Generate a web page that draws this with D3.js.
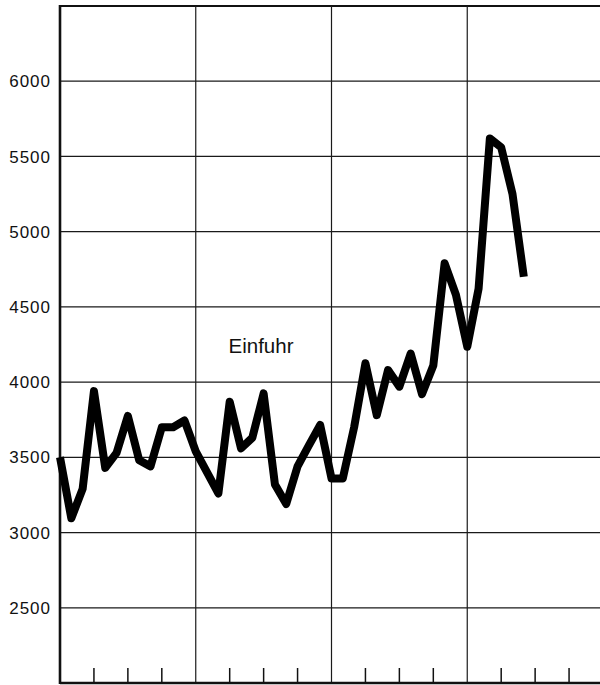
<!DOCTYPE html>
<html>
<head>
<meta charset="utf-8">
<script src="https://cdn.jsdelivr.net/npm/d3@7"></script>
<style>
  html, body { margin: 0; padding: 0; background: #fff; }
  svg { display: block; }
  .tick-label { font-family: "Liberation Sans", Arial, Helvetica, sans-serif; font-size: 17px; letter-spacing: 1px; fill: #111; }
  .series-label { font-family: "Liberation Sans", Arial, Helvetica, sans-serif; font-size: 20.5px; fill: #111; }
</style>
</head>
<body>
<svg id="chart" width="600" height="685"></svg>
<script>
// Monthly imports (Einfuhr), four years plus part of a fifth
const einfuhr = [
  3500, 3095, 3290, 3940, 3430, 3530, 3775, 3480, 3440, 3700, 3700, 3745,
  3540, 3400, 3260, 3870, 3560, 3630, 3925, 3320, 3190, 3440, 3580, 3715,
  3360, 3360, 3700, 4125, 3780, 4080, 3970, 4190, 3920, 4110, 4790, 4580,
  4235, 4620, 5620, 5560, 5250, 4700
];
const yTicks = [2500, 3000, 3500, 4000, 4500, 5000, 5500, 6000];
const yearStarts = [12, 24, 36, 48];
const quarterTicks = [3, 6, 9, 15, 18, 21, 27, 30, 33, 39, 42, 45];
const seriesName = "Einfuhr";

const svg = d3.select("#chart");
const plotLeft = 60, plotRight = 603, plotTop = 6, plotBottom = 683;

const x = d3.scaleLinear().domain([0, 48]).range([plotLeft, plotRight]);
const y = d3.scaleLinear().domain([2000, 6500]).range([plotBottom, plotTop]);

// horizontal grid lines
svg.append("g").selectAll("line").data(yTicks).join("line")
  .attr("x1", plotLeft).attr("x2", 600)
  .attr("y1", d => y(d)).attr("y2", d => y(d))
  .attr("stroke", "#1a1a1a").attr("stroke-width", 1.2);

// top frame line
svg.append("line")
  .attr("x1", plotLeft).attr("x2", 600)
  .attr("y1", y(6500)).attr("y2", y(6500))
  .attr("stroke", "#111").attr("stroke-width", 2);

// year separators
svg.append("g").selectAll("line").data(yearStarts).join("line")
  .attr("x1", d => x(d)).attr("x2", d => x(d))
  .attr("y1", plotTop).attr("y2", plotBottom)
  .attr("stroke", "#1a1a1a").attr("stroke-width", 1.2);

// quarter ticks on the time axis
svg.append("g").selectAll("line").data(quarterTicks).join("line")
  .attr("x1", d => x(d)).attr("x2", d => x(d))
  .attr("y1", plotBottom - 15).attr("y2", plotBottom)
  .attr("stroke", "#111").attr("stroke-width", 1.5);

// axes frame
svg.append("line")
  .attr("x1", plotLeft).attr("x2", plotLeft)
  .attr("y1", plotTop - 1).attr("y2", plotBottom + 1)
  .attr("stroke", "#111").attr("stroke-width", 2.6);
svg.append("line")
  .attr("x1", plotLeft).attr("x2", 600)
  .attr("y1", plotBottom).attr("y2", plotBottom)
  .attr("stroke", "#111").attr("stroke-width", 2.6);

// value labels
svg.append("g").selectAll("text").data(yTicks).join("text")
  .attr("class", "tick-label")
  .attr("x", 51)
  .attr("y", d => y(d))
  .attr("dy", "0.36em")
  .attr("text-anchor", "end")
  .text(d => d);

// series line
const line = d3.line()
  .x((d, i) => x(i))
  .y(d => y(d));

svg.append("path")
  .datum(einfuhr)
  .attr("d", line)
  .attr("fill", "none")
  .attr("stroke", "#000")
  .attr("stroke-width", 8)
  .attr("stroke-linejoin", "round")
  .attr("stroke-linecap", "butt");

svg.append("text")
  .attr("class", "series-label")
  .attr("x", 228.5)
  .attr("y", 352.5)
  .text(seriesName);
</script>
</body>
</html>
